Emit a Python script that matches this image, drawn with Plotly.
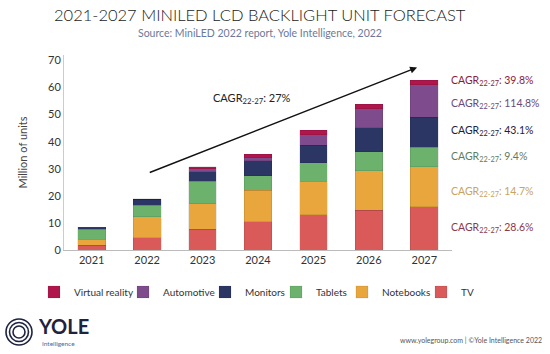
import plotly.graph_objects as go

years = ["2021", "2022", "2023", "2024", "2025", "2026", "2027"]
tv = [1.8, 4.5, 7.7, 10.4, 13.1, 14.7, 16.0]
notebooks = [2.2, 7.8, 9.4, 11.6, 12.3, 14.5, 14.7]
tablets = [3.6, 4.3, 8.3, 5.5, 6.8, 7.0, 7.2]
monitors = [0.7, 2.2, 3.5, 5.4, 6.5, 8.9, 11.1]
automotive = [0.0, 0.0, 1.1, 1.2, 3.9, 7.0, 12.0]
vr = [0.1, 0.2, 0.8, 1.3, 1.6, 1.8, 1.6]

series = [
    ("TV", tv, "#D95A58"),
    ("Notebooks", notebooks, "#E8A63C"),
    ("Tablets", tablets, "#6CB26C"),
    ("Monitors", monitors, "#2B3664"),
    ("Automotive", automotive, "#7E4B8D"),
    ("Virtual reality", vr, "#B0164C"),
]
cagr_labels = [
    ("TV", "28.6%", "#8A3A48"),
    ("Notebooks", "14.7%", "#C9A45C"),
    ("Tablets", "9.4%", "#5E7C62"),
    ("Monitors", "43.1%", "#1C2140"),
    ("Automotive", "114.8%", "#6A4B78"),
    ("Virtual reality", "39.8%", "#8A1A3C"),
]
label_y = [8.0, 21.5, 34.5, 44.0, 54.0, 62.5]
overall_cagr = "27%"

FONT = "Lato"
W, H = 550, 354
ML, MR, MT, MB = 64, 98, 55, 104
PW, PH = W - ML - MR, H - MT - MB

# left text position (px) of each legend entry, in series order
legend_text_x = [461, 382, 316, 245, 163, 74]


def px(x):
    return (x - ML) / PW


def py(y):
    return (H - MB - y) / PH


fig = go.Figure()
legend_layouts = {}
for i, (name, vals, col) in enumerate(series):
    lid = "legend" if i == 0 else f"legend{i + 1}"
    fig.add_trace(go.Bar(
        x=years, y=vals, name=name, legend=lid,
        marker=dict(color=col, line=dict(color="rgba(0,0,0,0.15)", width=0.6)),
    ))
    legend_layouts[lid] = dict(
        orientation="h", x=(legend_text_x[i] - 40) / W, xref="container", xanchor="left",
        y=(H - 292) / H, yref="container", yanchor="middle", itemwidth=30,
        bgcolor="rgba(0,0,0,0)", font=dict(family=FONT, size=10, color="#333"),
    )

ann = []
for (name, txt, col), yy in zip(cagr_labels, label_y):
    ann.append(dict(x=px(449), xref="paper", xanchor="left", y=yy, yref="y",
                    text=f"CAGR<sub>22-27</sub>: {txt}", showarrow=False,
                    font=dict(family=FONT, size=10.5, color=col)))

ann.append(dict(x=5.87, y=67.4, xref="x", yref="y", ax=1.02, ay=28.4, axref="x", ayref="y",
                text="", showarrow=True, arrowhead=2, arrowsize=1, arrowwidth=1.4, arrowcolor="#111"))
ann.append(dict(x=2.9, y=56.0, xref="x", yref="y", text=f"CAGR<sub>22-27</sub>: {overall_cagr}",
                showarrow=False, font=dict(family=FONT, size=11, color="#222")))

ann += [
    dict(x=px(260), y=py(15), xref="paper", yref="paper", xanchor="center", yanchor="middle",
         text="2021-2027 MINILED LCD BACKLIGHT UNIT FORECAST", showarrow=False,
         font=dict(family=FONT, size=16.5, color="#1a1a1a", weight=300)),
    dict(x=px(260), y=py(33), xref="paper", yref="paper", xanchor="center", yanchor="middle",
         text="Source: MiniLED 2022 report, Yole Intelligence, 2022", showarrow=False,
         font=dict(family=FONT, size=10.5, color="#6B7A99")),
    dict(x=px(544), y=py(340), xref="paper", yref="paper", xanchor="right", yanchor="middle",
         text="www.yolegroup.com | ©Yole Intelligence 2022", showarrow=False,
         font=dict(family=FONT, size=7, color="#555")),
    dict(x=px(36), y=py(326), xref="paper", yref="paper", xanchor="left", yanchor="middle",
         text="<b>YOLE</b>", showarrow=False, font=dict(family=FONT, size=20, color="#1E2340")),
    dict(x=px(40), y=py(343), xref="paper", yref="paper", xanchor="left", yanchor="middle",
         text="Intelligence", showarrow=False, font=dict(family=FONT, size=6.5, color="#4A6A9A")),
]

fig.update_layout(
    width=W, height=H,
    margin=dict(l=ML, r=MR, t=MT, b=MB, autoexpand=False),
    paper_bgcolor="white", plot_bgcolor="white",
    barmode="stack", bargap=0.5,
    font=dict(family=FONT, color="#333"),
    showlegend=True,
    xaxis=dict(type="category", showline=True, linecolor="#bbb", linewidth=1, ticks="",
               tickfont=dict(family=FONT, size=11, color="#333"), range=[-0.5, 6.5]),
    yaxis=dict(range=[0, 72], tickvals=[0, 10, 20, 30, 40, 50, 60, 70], showgrid=False, zeroline=False,
               showline=True, linecolor="#ccc", linewidth=1, ticks="",
               tickfont=dict(family=FONT, size=11, color="#333"),
               title=dict(text="Million of units", font=dict(family=FONT, size=11, color="#444"), standoff=18)),
    annotations=ann,
    **legend_layouts,
)

cx, cy = 19, 332
for r in [13, 9.5, 6]:
    fig.add_shape(type="circle", xref="paper", yref="paper",
                  x0=px(cx - r), x1=px(cx + r), y0=py(cy + r), y1=py(cy - r),
                  line=dict(color="#1E2340", width=1.6))

fig.write_html("out.html")
